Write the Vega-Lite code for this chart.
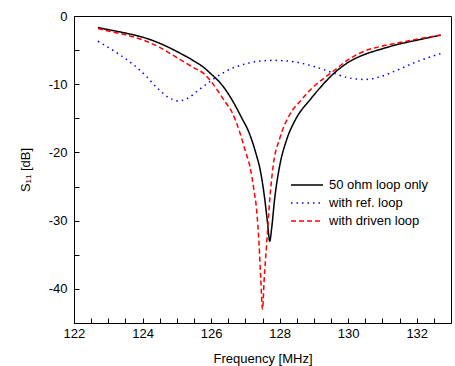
{
  "$schema": "https://vega.github.io/schema/vega-lite/v6.json",
  "autosize": {"type": "none"},
  "width": 377,
  "height": 307,
  "padding": {"left": 74, "top": 16, "right": 4, "bottom": 43},
  "background": "white",
  "config": {
    "view": {"stroke": "black", "strokeWidth": 1}
  },
  "data": {
    "values": [
      {"series": "50 ohm loop only", "f": 122.7, "s": -1.7},
      {"series": "50 ohm loop only", "f": 123.0, "s": -2.0},
      {"series": "50 ohm loop only", "f": 123.5, "s": -2.5},
      {"series": "50 ohm loop only", "f": 124.0, "s": -3.1},
      {"series": "50 ohm loop only", "f": 124.5, "s": -4.0},
      {"series": "50 ohm loop only", "f": 125.0, "s": -5.2},
      {"series": "50 ohm loop only", "f": 125.5, "s": -6.6},
      {"series": "50 ohm loop only", "f": 125.8, "s": -7.6},
      {"series": "50 ohm loop only", "f": 126.0, "s": -8.5},
      {"series": "50 ohm loop only", "f": 126.3, "s": -10.0},
      {"series": "50 ohm loop only", "f": 126.6, "s": -12.2},
      {"series": "50 ohm loop only", "f": 126.9, "s": -15.0},
      {"series": "50 ohm loop only", "f": 127.1, "s": -17.0},
      {"series": "50 ohm loop only", "f": 127.3, "s": -20.0},
      {"series": "50 ohm loop only", "f": 127.45, "s": -23.0},
      {"series": "50 ohm loop only", "f": 127.57, "s": -27.0},
      {"series": "50 ohm loop only", "f": 127.65, "s": -30.5},
      {"series": "50 ohm loop only", "f": 127.71, "s": -33.0},
      {"series": "50 ohm loop only", "f": 127.77, "s": -31.0},
      {"series": "50 ohm loop only", "f": 127.85, "s": -27.0},
      {"series": "50 ohm loop only", "f": 128.0, "s": -22.0},
      {"series": "50 ohm loop only", "f": 128.2, "s": -18.2},
      {"series": "50 ohm loop only", "f": 128.45, "s": -15.3},
      {"series": "50 ohm loop only", "f": 128.9, "s": -12.2},
      {"series": "50 ohm loop only", "f": 129.2, "s": -10.4},
      {"series": "50 ohm loop only", "f": 129.5, "s": -8.8},
      {"series": "50 ohm loop only", "f": 130.0, "s": -6.8},
      {"series": "50 ohm loop only", "f": 130.5, "s": -5.6},
      {"series": "50 ohm loop only", "f": 131.0, "s": -4.8},
      {"series": "50 ohm loop only", "f": 131.5, "s": -4.1},
      {"series": "50 ohm loop only", "f": 132.0, "s": -3.55},
      {"series": "50 ohm loop only", "f": 132.7, "s": -2.8},

      {"series": "with ref. loop", "f": 122.7, "s": -3.7},
      {"series": "with ref. loop", "f": 123.0, "s": -4.6},
      {"series": "with ref. loop", "f": 123.4, "s": -5.9},
      {"series": "with ref. loop", "f": 123.75, "s": -7.2},
      {"series": "with ref. loop", "f": 124.1, "s": -8.8},
      {"series": "with ref. loop", "f": 124.4, "s": -10.4},
      {"series": "with ref. loop", "f": 124.75, "s": -11.9},
      {"series": "with ref. loop", "f": 125.05, "s": -12.45},
      {"series": "with ref. loop", "f": 125.3, "s": -12.1},
      {"series": "with ref. loop", "f": 125.65, "s": -10.8},
      {"series": "with ref. loop", "f": 126.05, "s": -9.3},
      {"series": "with ref. loop", "f": 126.6, "s": -7.7},
      {"series": "with ref. loop", "f": 127.1, "s": -6.9},
      {"series": "with ref. loop", "f": 127.8, "s": -6.5},
      {"series": "with ref. loop", "f": 128.4, "s": -6.7},
      {"series": "with ref. loop", "f": 129.0, "s": -7.4},
      {"series": "with ref. loop", "f": 129.4, "s": -8.05},
      {"series": "with ref. loop", "f": 129.7, "s": -8.6},
      {"series": "with ref. loop", "f": 130.05, "s": -9.1},
      {"series": "with ref. loop", "f": 130.5, "s": -9.3},
      {"series": "with ref. loop", "f": 130.9, "s": -8.95},
      {"series": "with ref. loop", "f": 131.4, "s": -8.0},
      {"series": "with ref. loop", "f": 132.0, "s": -6.7},
      {"series": "with ref. loop", "f": 132.7, "s": -5.5},

      {"series": "with driven loop", "f": 122.7, "s": -1.85},
      {"series": "with driven loop", "f": 123.0, "s": -2.2},
      {"series": "with driven loop", "f": 123.5, "s": -2.75},
      {"series": "with driven loop", "f": 124.0, "s": -3.5},
      {"series": "with driven loop", "f": 124.5, "s": -4.6},
      {"series": "with driven loop", "f": 125.0, "s": -6.1},
      {"series": "with driven loop", "f": 125.5, "s": -7.6},
      {"series": "with driven loop", "f": 125.8, "s": -8.5},
      {"series": "with driven loop", "f": 126.0, "s": -9.6},
      {"series": "with driven loop", "f": 126.2, "s": -11.0},
      {"series": "with driven loop", "f": 126.4, "s": -12.5},
      {"series": "with driven loop", "f": 126.6, "s": -14.0},
      {"series": "with driven loop", "f": 126.84, "s": -17.1},
      {"series": "with driven loop", "f": 127.0, "s": -19.8},
      {"series": "with driven loop", "f": 127.13, "s": -22.0},
      {"series": "with driven loop", "f": 127.25, "s": -25.5},
      {"series": "with driven loop", "f": 127.33, "s": -28.5},
      {"series": "with driven loop", "f": 127.4, "s": -33.5},
      {"series": "with driven loop", "f": 127.45, "s": -38.5},
      {"series": "with driven loop", "f": 127.5, "s": -43.0},
      {"series": "with driven loop", "f": 127.55, "s": -38.5},
      {"series": "with driven loop", "f": 127.62, "s": -33.5},
      {"series": "with driven loop", "f": 127.71, "s": -27.0},
      {"series": "with driven loop", "f": 127.81, "s": -22.0},
      {"series": "with driven loop", "f": 128.0, "s": -18.0},
      {"series": "with driven loop", "f": 128.3, "s": -14.4},
      {"series": "with driven loop", "f": 128.6, "s": -12.5},
      {"series": "with driven loop", "f": 129.0, "s": -10.3},
      {"series": "with driven loop", "f": 129.3, "s": -9.1},
      {"series": "with driven loop", "f": 129.6, "s": -7.95},
      {"series": "with driven loop", "f": 130.0, "s": -6.4},
      {"series": "with driven loop", "f": 130.5, "s": -5.1},
      {"series": "with driven loop", "f": 131.0, "s": -4.4},
      {"series": "with driven loop", "f": 131.5, "s": -3.9},
      {"series": "with driven loop", "f": 132.0, "s": -3.4},
      {"series": "with driven loop", "f": 132.7, "s": -2.8}
    ]
  },
  "mark": {"type": "line", "strokeWidth": 1.5, "interpolate": "monotone"},
  "encoding": {
    "x": {
      "field": "f",
      "type": "quantitative",
      "scale": {"domain": [122, 133], "nice": false, "zero": false},
      "axis": {
        "title": "Frequency [MHz]",
        "grid": false,
        "domain": false,
        "offset": -5,
        "tickColor": "black",
        "tickSize": 5,
        "labelColor": "black",
        "labelFont": "Liberation Sans",
        "labelFontSize": 13,
        "labelFlushOffset": 11,
        "titleColor": "black",
        "titleFont": "Liberation Sans",
        "titleFontSize": 13,
        "titleFontWeight": "normal",
        "values": [122, 122.5, 123, 123.5, 124, 124.5, 125, 125.5, 126, 126.5, 127, 127.5, 128, 128.5, 129, 129.5, 130, 130.5, 131, 131.5, 132, 132.5, 133],
        "labelExpr": "datum.value % 2 == 0 ? '' + datum.value : ''",
        "labelPadding": 4,
        "titlePadding": 12
      }
    },
    "y": {
      "field": "s",
      "type": "quantitative",
      "scale": {"domain": [-45, 0], "nice": false, "zero": false},
      "axis": {
        "title": "S₁₁ [dB]",
        "grid": false,
        "domain": false,
        "offset": -5,
        "tickColor": "black",
        "tickSize": 5,
        "labelColor": "black",
        "labelFont": "Liberation Sans",
        "labelFontSize": 13,
        "labelFlushOffset": 6,
        "titleColor": "black",
        "titleFont": "Liberation Sans",
        "titleFontSize": 13,
        "titleFontWeight": "normal",
        "values": [0, -5, -10, -15, -20, -25, -30, -35, -40, -45],
        "labelExpr": "datum.value % 10 == 0 ? '' + datum.value : ''",
        "labelPadding": 7,
        "titlePadding": 16
      }
    },
    "color": {
      "field": "series",
      "type": "nominal",
      "scale": {
        "domain": ["50 ohm loop only", "with ref. loop", "with driven loop"],
        "range": ["#000000", "#0000ff", "#ff0000"]
      },
      "legend": {
        "title": null,
        "orient": "none",
        "legendX": 224,
        "legendY": 160,
        "padding": 0,
        "symbolType": "M-2,0H2",
        "symbolSize": 256,
        "symbolStrokeWidth": 1.5,
        "labelFontSize": 13,
        "labelFont": "Liberation Sans",
        "labelColor": "black",
        "labelOffset": 13,
        "rowPadding": 2
      }
    },
    "strokeDash": {
      "field": "series",
      "type": "nominal",
      "scale": {
        "domain": ["50 ohm loop only", "with ref. loop", "with driven loop"],
        "range": [[1, 0], [1.5, 4], [5, 3]]
      },
      "legend": null
    }
  }
}
